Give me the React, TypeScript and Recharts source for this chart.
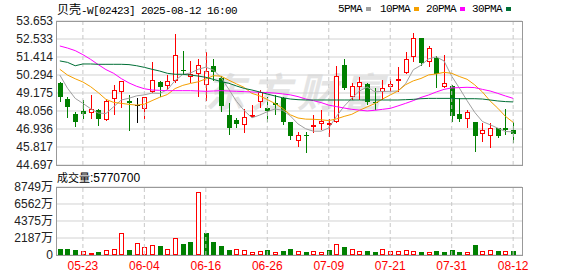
import React from 'react';
import { ComposedChart, Bar, Line, XAxis, YAxis, CartesianGrid, ReferenceLine } from 'recharts';

// trading days shown (HK market, 2025)
const dates = [
  '05-20', '05-21', '05-22', '05-23', '05-26', '05-27', '05-28', '05-29', '05-30', '06-02',
  '06-03', '06-04', '06-05', '06-06', '06-09', '06-10', '06-11', '06-12', '06-13', '06-16',
  '06-17', '06-18', '06-19', '06-20', '06-23', '06-24', '06-25', '06-26', '06-27', '06-30',
  '07-02', '07-03', '07-04', '07-07', '07-08', '07-09', '07-10', '07-11', '07-14', '07-15',
  '07-16', '07-17', '07-18', '07-21', '07-22', '07-23', '07-24', '07-25', '07-28', '07-29',
  '07-30', '07-31', '08-01', '08-04', '08-05', '08-06', '08-07', '08-08', '08-11', '08-12',
];

const opens = [
  49.82, 48.80, 47.85, 48.06, 47.91, 48.12, 47.48, 48.78, 49.24, 48.68,
  48.45, 48.20, 49.22, 49.86, 49.59, 49.94, 50.61, 50.15, 50.38, 49.65,
  50.86, 50.09, 47.81, 47.50, 47.16, 47.66, 48.64, 48.22, 48.53, 48.84,
  47.35, 46.21, 46.58, 47.08, 47.25, 47.23, 47.35, 50.92, 48.91, 49.53,
  49.71, 48.64, 49.26, 49.53, 49.96, 50.40, 51.39, 52.60, 51.08, 51.37,
  49.57, 49.61, 47.85, 47.58, 47.35, 46.61, 46.52, 46.98, 46.98, 46.87,
];

const highs = [
  49.85, 48.91, 47.99, 48.74, 49.03, 48.15, 48.78, 49.67, 49.95, 49.05,
  48.84, 48.95, 51.08, 49.90, 50.30, 52.85, 51.81, 51.15, 51.29, 51.73,
  51.29, 50.23, 48.57, 47.60, 48.16, 48.45, 49.36, 48.95, 49.05, 48.95,
  47.38, 46.77, 46.77, 47.81, 48.12, 47.54, 50.86, 51.29, 49.82, 50.19,
  49.77, 49.47, 49.98, 50.05, 50.81, 51.73, 52.93, 52.62, 52.10, 51.48,
  51.54, 49.65, 48.84, 48.12, 47.38, 47.29, 47.29, 47.02, 48.18, 47.35,
];

const lows = [
  48.64, 47.64, 47.08, 47.56, 47.58, 47.14, 47.45, 47.83, 48.26, 46.83,
  47.33, 47.58, 49.20, 48.95, 49.36, 49.80, 50.30, 49.78, 48.95, 48.66,
  49.90, 47.99, 46.56, 46.98, 46.67, 47.60, 48.22, 47.39, 47.81, 47.19,
  46.25, 45.84, 45.46, 46.71, 46.87, 46.46, 47.29, 49.36, 48.74, 48.74,
  48.43, 48.12, 48.74, 49.26, 49.26, 50.35, 51.12, 50.86, 50.81, 49.47,
  49.51, 47.39, 47.39, 47.02, 45.53, 46.15, 45.73, 46.36, 46.56, 46.09,
];

const closes = [
  48.95, 48.33, 47.39, 47.89, 48.16, 47.58, 48.66, 49.34, 49.90, 48.53,
  48.45, 48.91, 49.96, 49.57, 49.92, 51.54, 50.54, 50.36, 50.90, 50.56,
  50.50, 48.37, 47.02, 47.27, 47.66, 47.79, 49.26, 48.08, 48.41, 47.39,
  46.52, 46.56, 46.54, 47.16, 47.43, 47.29, 50.23, 49.47, 49.61, 49.88,
  48.64, 48.57, 49.51, 49.71, 50.03, 51.27, 52.58, 51.02, 51.95, 50.36,
  49.78, 47.75, 47.56, 47.97, 46.52, 46.87, 47.02, 46.50, 46.90, 46.61,
];

// volume in 万股
const volumes = [
  761, 761, 634, 507, 254, 380, 634, 761, 2874, 634,
  1606, 972, 1226, 1141, 719, 2240, 1395, 1649, 8074, 2790,
  1649, 1099, 634, 719, 592, 338, 465, 592, 338, 507,
  740, 465, 380, 550, 338, 634, 1479, 972, 803, 550,
  465, 380, 719, 465, 465, 676, 550, 380, 338, 507,
  380, 592, 380, 338, 1268, 465, 676, 507, 550, 577,
];

// 1 = red (up on previous close), 0 = green
const volUp = [
  0, 0, 0, 1, 1, 0, 1, 1, 1, 0,
  1, 1, 1, 0, 1, 1, 0, 0, 1, 0,
  0, 0, 0, 1, 1, 1, 1, 0, 1, 0,
  0, 1, 0, 1, 1, 0, 1, 0, 1, 1,
  0, 0, 1, 1, 1, 1, 1, 0, 1, 0,
  0, 0, 0, 1, 0, 1, 1, 0, 1, 0,
];

const ma5 = [
  50.29, 49.47, 48.84, 48.53, 48.20, 47.93, 47.90, 48.32, 48.74, 48.85,
  49.00, 49.06, 49.17, 49.15, 49.38, 49.95, 50.33, 50.42, 50.65, 50.78,
  50.60, 50.13, 49.40, 48.65, 48.08, 47.63, 47.80, 48.01, 48.18, 48.10,
  47.75, 47.25, 46.95, 46.80, 46.80, 47.00, 47.72, 48.35, 48.85, 49.30,
  49.55, 49.25, 49.27, 49.28, 49.30, 49.75, 50.62, 50.90, 51.30, 51.42,
  51.17, 50.22, 49.48, 48.70, 47.97, 47.40, 47.20, 46.99, 46.78, 46.76,
];

const ma10 = [
  50.65, 50.29, 50.06, 49.86, 49.57, 49.20, 48.78, 48.59, 48.53, 48.47,
  48.42, 48.48, 48.70, 48.91, 49.08, 49.45, 49.65, 49.77, 49.87, 50.05,
  50.25, 50.22, 49.97, 49.74, 49.52, 49.15, 49.00, 48.77, 48.52, 48.22,
  47.82, 47.62, 47.55, 47.54, 47.51, 47.46, 47.56, 47.72, 47.85, 48.10,
  48.31, 48.52, 48.80, 49.05, 49.30, 49.69, 49.93, 50.08, 50.30, 50.36,
  50.46, 50.40, 50.20, 50.03, 49.68, 49.24, 48.68, 48.23, 47.72, 47.35,
];

const ma20 = [
  52.10, 51.97, 51.81, 51.56, 51.27, 50.94, 50.63, 50.40, 50.07, 49.80,
  49.59, 49.44, 49.36, 49.34, 49.32, 49.32, 49.32, 49.32, 49.30, 49.28,
  49.30, 49.32, 49.30, 49.28, 49.26, 49.24, 49.22, 49.20, 49.17, 49.12,
  49.06, 48.95, 48.80, 48.70, 48.58, 48.42, 48.33, 48.24, 48.16, 48.11,
  48.06, 48.10, 48.16, 48.22, 48.37, 48.53, 48.70, 48.90, 49.05, 49.24,
  49.40, 49.49, 49.51, 49.53, 49.51, 49.40, 49.30, 49.15, 48.99, 48.84,
];

const ma30 = [
  51.17, 51.08, 50.87, 50.98, 50.98, 50.96, 50.96, 50.96, 50.96, 50.94,
  50.87, 50.77, 50.65, 50.54, 50.40, 50.34, 50.34, 50.29, 50.23, 50.15,
  50.02, 49.88, 49.78, 49.61, 49.46, 49.36, 49.24, 49.11, 48.99, 48.88,
  48.80, 48.76, 48.74, 48.74, 48.74, 48.74, 48.74, 48.74, 48.74, 48.74,
  48.74, 48.74, 48.74, 48.74, 48.74, 48.76, 48.78, 48.82, 48.84, 48.84,
  48.84, 48.84, 48.82, 48.82, 48.82, 48.80, 48.74, 48.68, 48.64, 48.62,
];

const priceTicks = [44.697, 45.817, 46.936, 48.056, 49.175, 50.294, 51.414, 52.533, 53.653];
const volTicks = [0, 2187, 4375, 6562, 8749];
const dateTicks = ['05-23', '06-04', '06-16', '06-26', '07-09', '07-21', '07-31', '08-12'];

const RED = '#ff0000';
const GREEN = '#008000';
const MA_COLORS = { ma5: '#a0a0a0', ma10: '#f5a000', ma20: '#ff00ff', ma30: '#006f36' };
const SANS = '"Liberation Sans", Arial, "Noto Sans CJK SC", sans-serif';
const MONO = '"Liberation Mono", "Noto Sans CJK SC", monospace';
const CJK = '"Noto Sans CJK SC", sans-serif';

const rows = dates.map((date, i) => ({
  date,
  open: opens[i],
  high: highs[i],
  low: lows[i],
  close: closes[i],
  range: [lows[i], highs[i]],
  vol: volumes[i],
  up: volUp[i] === 1,
  ma5: ma5[i],
  ma10: ma10[i],
  ma20: ma20[i],
  ma30: ma30[i],
}));

function Candle(props: any) {
  const { x, y, width, height, payload } = props;
  if (x == null || !payload) return null;
  const { open, close, high, low } = payload;
  const top = Math.min(y, y + height);
  const k = high > low ? Math.abs(height) / (high - low) : 0;
  const toY = (v: number) => top + (high - v) * k;
  const cx = Math.round(x + width / 2);
  const yHigh = Math.round(toY(high));
  const yLow = Math.round(toY(low));
  const yTop = Math.round(toY(Math.max(open, close)));
  const yBot = Math.round(toY(Math.min(open, close)));

  if (close > open) {
    return (
      <g>
        <line x1={cx + 0.5} x2={cx + 0.5} y1={yHigh} y2={yLow} stroke={RED} />
        <rect x={cx - 1.5} y={yTop + 0.5} width={4} height={Math.max(yBot - yTop - 1, 1)} fill="#fff" stroke={RED} />
      </g>
    );
  }
  if (close < open) {
    return (
      <g>
        <line x1={cx + 0.5} x2={cx + 0.5} y1={yHigh} y2={yLow} stroke={GREEN} />
        <rect x={cx - 2} y={yTop} width={5} height={Math.max(yBot - yTop, 1)} fill={GREEN} />
      </g>
    );
  }
  // doji
  return (
    <g>
      <line x1={cx + 0.5} x2={cx + 0.5} y1={yHigh} y2={yLow} stroke="#000" />
      <line x1={cx - 2} x2={cx + 3} y1={yTop + 0.5} y2={yTop + 0.5} stroke="#000" />
    </g>
  );
}

function VolBar(props: any) {
  const { x, y, width, height, payload } = props;
  if (x == null || !payload) return null;
  const cx = Math.round(x + width / 2);
  const top = Math.round(y);
  const bottom = Math.round(y + height);
  if (payload.up) {
    return (
      <rect x={cx - 1.5} y={top + 0.5} width={4} height={Math.max(bottom - top - 1, 1)} fill="#fff" stroke={RED} />
    );
  }
  return <rect x={cx - 2} y={top} width={5} height={Math.max(bottom - top, 1)} fill={GREEN} />;
}

const legendItems = [
  { label: '5PMA', color: MA_COLORS.ma5, x: 338 },
  { label: '10PMA', color: MA_COLORS.ma10, x: 380 },
  { label: '20PMA', color: MA_COLORS.ma20, x: 426 },
  { label: '30PMA', color: MA_COLORS.ma30, x: 472 },
];

const App: React.FC = () => {
  return (
    <div style={{ position: 'absolute', left: 0, top: 0, width: 578, height: 276, background: '#fff', overflow: 'hidden' }}>
      {/* watermark */}
      <div
        style={{
          position: 'absolute', left: 205, top: 66, fontFamily: CJK, fontSize: 40, fontWeight: 700,
          fontStyle: 'italic', color: '#e4e4e4', letterSpacing: 6, lineHeight: '48px', whiteSpace: 'nowrap',
        }}
      >
        东方财富
      </div>

      {/* title */}
      <div style={{ position: 'absolute', left: 57, top: 2, fontSize: 11, lineHeight: '14px', fontFamily: MONO, letterSpacing: -0.6, color: '#000', whiteSpace: 'nowrap' }}>
        <span style={{ fontFamily: CJK, fontSize: 12, letterSpacing: 0 }}>贝壳</span>-W[02423] 2025-08-12 16:00
      </div>

      {/* legend */}
      {legendItems.map((it) => (
        <div key={it.label} style={{ position: 'absolute', left: it.x, top: 2, fontSize: 11, lineHeight: '14px', fontFamily: MONO, letterSpacing: -0.6, color: '#000', whiteSpace: 'nowrap' }}>
          {it.label}
          <span style={{ display: 'inline-block', width: 5, height: 4, background: it.color, marginLeft: 4, verticalAlign: 'middle' }} />
        </div>
      ))}

      {/* price chart */}
      <div style={{ position: 'absolute', left: 0, top: 0 }}>
        <ComposedChart width={578} height={178} data={rows} margin={{ top: 21, right: 56, bottom: 13, left: 0 }}>
          <CartesianGrid vertical={false} stroke="#d2d2d2" />
          <XAxis dataKey="date" hide padding={{ left: 0, right: 5 }} />
          <YAxis
            domain={[44.697, 53.653]}
            ticks={priceTicks}
            interval={0}
            width={56}
            axisLine={false}
            tickLine={false}
            tickSize={0}
            tickMargin={3}
            tickFormatter={(v: number) => v.toFixed(3)}
            tick={{ fill: '#222', fontSize: 12, fontFamily: SANS }}
          />
          {dateTicks.map((d) => (
            <ReferenceLine key={d} x={d} stroke="#c8c8c8" strokeDasharray="4 3" />
          ))}
          <Bar dataKey="range" shape={Candle} isAnimationActive={false} />
          <Line dataKey="ma5" stroke={MA_COLORS.ma5} dot={false} strokeWidth={1} isAnimationActive={false} />
          <Line dataKey="ma10" stroke={MA_COLORS.ma10} dot={false} strokeWidth={1} isAnimationActive={false} />
          <Line dataKey="ma20" stroke={MA_COLORS.ma20} dot={false} strokeWidth={1} isAnimationActive={false} />
          <Line dataKey="ma30" stroke={MA_COLORS.ma30} dot={false} strokeWidth={1} isAnimationActive={false} />
        </ComposedChart>
      </div>

      {/* volume title */}
      <div style={{ position: 'absolute', left: 57, top: 170, fontSize: 12, lineHeight: '14px', fontFamily: SANS, color: '#000', whiteSpace: 'nowrap' }}>
        <span style={{ fontFamily: CJK, fontSize: 11 }}>成交量</span>:5770700
      </div>

      {/* volume chart */}
      <div style={{ position: 'absolute', left: 0, top: 165 }}>
        <ComposedChart width={578} height={111} data={rows} margin={{ top: 22, right: 56, bottom: 0, left: 0 }}>
          <CartesianGrid vertical={false} stroke="#d2d2d2" />
          <XAxis
            dataKey="date"
            ticks={dateTicks}
            interval={0}
            height={21}
            axisLine={false}
            tickLine={false}
            tickSize={0}
            tickMargin={6}
            padding={{ left: 0, right: 5 }}
            tick={{ fill: RED, fontSize: 12, fontFamily: SANS }}
          />
          <YAxis
            domain={[0, 8749]}
            ticks={volTicks}
            interval={0}
            width={56}
            axisLine={false}
            tickLine={false}
            tickSize={0}
            tickMargin={3}
            tickFormatter={(v: number) => (v === 0 ? '0' : `${v}万`)}
            tick={{ fill: '#222', fontSize: 12, fontFamily: SANS }}
          />
          {dateTicks.map((d) => (
            <ReferenceLine key={d} x={d} stroke="#c8c8c8" strokeDasharray="4 3" />
          ))}
          <Bar dataKey="vol" shape={VolBar} isAnimationActive={false} />
        </ComposedChart>
      </div>

      {/* plot borders */}
      <div style={{ position: 'absolute', left: 56, top: 21, width: 467, height: 145, boxSizing: 'border-box', border: '1px solid #999', pointerEvents: 'none' }} />
      <div style={{ position: 'absolute', left: 56, top: 187, width: 467, height: 69, boxSizing: 'border-box', border: '1px solid #999', pointerEvents: 'none' }} />
    </div>
  );
};

export default App;
